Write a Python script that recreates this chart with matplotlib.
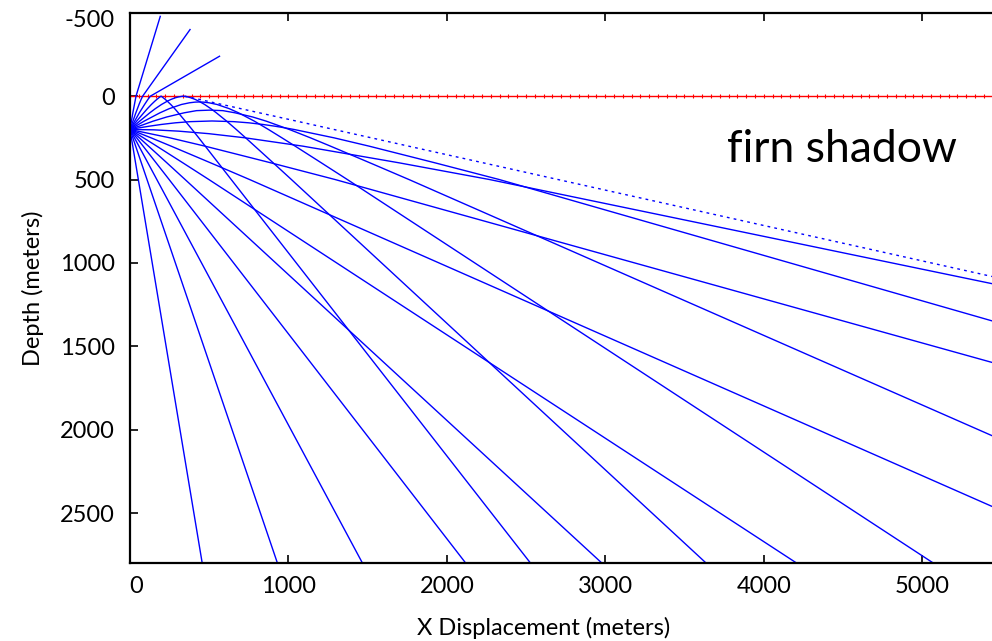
import matplotlib.pyplot as plt
import matplotlib.transforms as mtransforms
import numpy as np

# Trazado de rayos desde una fuente a 200 m de profundidad (x y profundidad en metros)

# rayos que salen hacia abajo
down10_x = [0, 456]
down10_z = [200, 2800]
down20_x = [0, 931]
down20_z = [200, 2800]
down30_x = [0, 1468]
down30_z = [200, 2800]
down40_x = [0, 42, 83, 165, 247, 2120]
down40_z = [200, 250, 300, 400, 500, 2800]
down50_x = [0, 59, 117, 233, 348, 2980]
down50_z = [200, 250, 300, 400, 500, 2800]
down60_x = [0, 85, 169, 334, 498, 4210]
down60_z = [200, 250, 300, 400, 500, 2800]
down70_x = [0, 67, 133, 260, 509, 755, 5441]
down70_z = [200, 225, 250, 300, 400, 500, 2459]
down80_x = [0, 126, 252, 474, 890, 1295, 5441]
down80_z = [200, 225, 250, 300, 400, 500, 1596]

# rayo horizontal
flat_x = [0, 150, 308, 497, 727, 1092, 1700, 2270, 5441]
flat_z = [200, 202, 210, 225, 250, 300, 400, 500, 1124]

# rayos que suben y se curvan antes de la superficie
up80_x = [0, 59, 123, 196, 286, 380, 518, 656, 750, 840, 913, 977, 1036,
          1162, 1288, 1510, 1926, 2331, 5441]
up80_z = [200, 190, 180, 170, 160, 153, 149, 153, 160, 170, 180, 190, 200,
          225, 250, 300, 400, 500, 1347]
up70_x = [0, 73, 146, 232, 342, 420, 503, 586, 663, 774, 860, 933, 1006,
          1139, 1266, 1515, 1761, 5441]
up70_z = [200, 175, 150, 125, 100, 87, 84, 87, 100, 125, 150, 175, 200,
          250, 300, 400, 500, 2035]
up60_x = [0, 89, 189, 248, 325, 375, 410, 437, 464, 499, 549, 626, 685,
          785, 874, 959, 1043, 1208, 1372, 5073]
up60_z = [200, 150, 100, 75, 50, 40, 36, 35, 36, 40, 50, 75, 100,
          150, 200, 250, 300, 400, 500, 2800]

# rayos que rebotan en la superficie
up50_x = [0, 61, 125, 160, 199, 236, 258, 286, 305, 335, 365, 384, 412, 434,
          471, 510, 545, 610, 671, 730, 788, 904, 1019, 3638]
up50_z = [200, 150, 100, 75, 50, 30, 20, 10, 5, 0, 5, 10, 20, 30,
          50, 75, 100, 150, 200, 250, 300, 400, 500, 2800]
up40_x = [0, 42, 87, 110, 135, 157, 169, 182, 196, 210, 223, 235, 257, 282,
          305, 349, 392, 434, 475, 557, 639, 2529]
up40_z = [200, 150, 100, 75, 50, 30, 20, 10, 0, 10, 20, 30, 50, 75,
          100, 150, 200, 250, 300, 400, 500, 2800]

# rayos que escapan al aire
up30_x = [0, 59, 92, 113, 129, 565]
up30_z = [200, 100, 50, 20, 0, -239]
up20_x = [0, 37, 57, 70, 80, 379]
up20_z = [200, 100, 50, 20, 0, -399]
up10_x = [0, 18, 28, 34, 38, 191]
up10_z = [200, 100, 50, 20, 0, -478]

# limite de la sombra (punteado)
shadow_x = [345, 5441]
shadow_z = [0, 1081]

# superficie
surface_x = np.linspace(0, 5500, 100)
surface_z = np.zeros(len(surface_x))

rays = [
    (down10_x, down10_z), (down20_x, down20_z), (down30_x, down30_z),
    (down40_x, down40_z), (down50_x, down50_z), (down60_x, down60_z),
    (down70_x, down70_z), (down80_x, down80_z), (flat_x, flat_z),
    (up80_x, up80_z), (up70_x, up70_z), (up60_x, up60_z),
    (up50_x, up50_z), (up40_x, up40_z),
    (up30_x, up30_z), (up20_x, up20_z), (up10_x, up10_z),
]

plt.rcParams['font.family'] = ['Lato', 'DejaVu Sans']
plt.rcParams['axes.unicode_minus'] = False

fig = plt.figure(figsize=(9.92, 6.41), dpi=100)
ax = fig.add_axes([130 / 992, 1 - 563.3 / 641, 862 / 992, 550.6 / 641])

ax.plot(surface_x, surface_z, color="#ff0000", lw=1.0, marker="|",
        markersize=3, markeredgewidth=0.8)

for rx, rz in rays:
    ax.plot(rx, rz, color="#0000ff", lw=1.0)

ax.plot(shadow_x, shadow_z, color="#0000ff", lw=1.0, linestyle=(0, (2, 3)))

ax.text(3770, 393, "firn shadow", fontsize=32, color="black",
        ha="left", va="baseline")

ax.set_xlim(0, 5441)
ax.set_ylim(2800, -500)
ax.set_xticks([0, 1000, 2000, 3000, 4000, 5000])
ax.set_yticks([-500, 0, 500, 1000, 1500, 2000, 2500])

ax.spines["right"].set_visible(False)
for s in ["left", "bottom", "top"]:
    ax.spines[s].set_linewidth(1.6)
ax.tick_params(direction="in", length=6, width=1.2, labelsize=17, top=True,
               right=False)
ax.tick_params(axis="y", pad=11)
ax.tick_params(axis="x", pad=9)

# etiquetas de los extremos un poco corridas, como en el original
lab = ax.yaxis.get_major_ticks()[0].label1
lab.set_transform(lab.get_transform() +
                  mtransforms.ScaledTranslation(0, -6 / 100, fig.dpi_scale_trans))
lab = ax.xaxis.get_major_ticks()[0].label1
lab.set_transform(lab.get_transform() +
                  mtransforms.ScaledTranslation(6 / 100, 0, fig.dpi_scale_trans))

ax.set_xlabel("X Displacement (meters)", fontsize=17)
ax.set_ylabel("Depth (meters)", fontsize=17)
ax.xaxis.set_label_coords(0.48, -0.097)
ax.yaxis.set_label_coords(-0.10, 0.5)

fig.savefig("out.png", dpi=100)
